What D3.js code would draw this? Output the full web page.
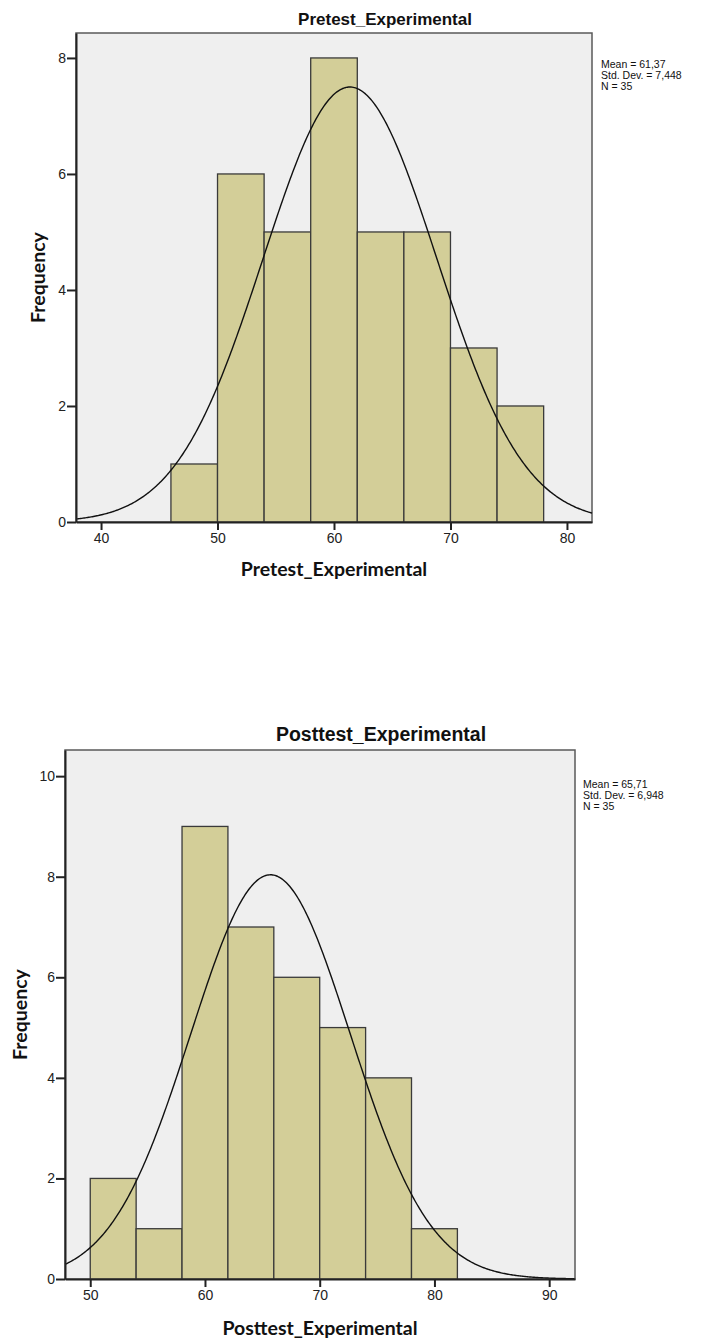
<!DOCTYPE html>
<html>
<head>
<meta charset="utf-8">
<script src="https://cdn.jsdelivr.net/npm/d3@7"></script>
<style>
  body { margin: 0; background: #fff; }
  svg text { font-family: "Liberation Sans", Arial, sans-serif; }
</style>
</head>
<body>
<div id="chart"></div>
<script>
// histogram data
var binWidth = 4;

var preBinStarts = [46, 50, 54, 58, 62, 66, 70, 74];
var preCounts = [1, 6, 5, 8, 5, 5, 3, 2];
var preStats = ["Mean = 61,37", "Std. Dev. = 7,448", "N = 35"];
var preMean = 61.37, preSd = 7.448, preN = 35;
var preXTicks = [40, 50, 60, 70, 80];
var preYTicks = [0, 2, 4, 6, 8];

var postBinStarts = [50, 54, 58, 62, 66, 70, 74, 78];
var postCounts = [2, 1, 9, 7, 6, 5, 4, 1];
var postStats = ["Mean = 65,71", "Std. Dev. = 6,948", "N = 35"];
var postMean = 65.71, postSd = 6.948, postN = 35;
var postXTicks = [50, 60, 70, 80, 90];
var postYTicks = [0, 2, 4, 6, 8, 10];

var width = 706;
var height = 1341;

var svg = d3.select("#chart").append("svg")
  .attr("width", width)
  .attr("height", height);

function drawHist(o) {
  var x = d3.scaleLinear().domain(o.xDomain).range([o.left, o.right]);
  var y = d3.scaleLinear().domain([0, o.yMax]).range([o.bottom, o.top]);
  var g = svg.append("g");

  // plot background
  g.append("rect")
    .attr("x", o.left).attr("y", o.top)
    .attr("width", o.right - o.left).attr("height", o.bottom - o.top)
    .attr("fill", "#efefef")
    .attr("stroke", "#5a5a5a")
    .attr("stroke-width", 1.5);

  var bins = o.starts.map(function (s, i) { return { x0: s, x1: s + binWidth, n: o.counts[i] }; });

  g.append("g").selectAll("rect")
    .data(bins)
    .join("rect")
    .attr("x", d => x(d.x0))
    .attr("y", d => y(d.n))
    .attr("width", d => x(d.x1) - x(d.x0))
    .attr("height", d => y(0) - y(d.n))
    .attr("fill", "#d3ce98")
    .attr("stroke", "#3a3a3a")
    .attr("stroke-width", 1.3);

  // normal curve scaled to counts
  var k = o.n * binWidth / (o.sd * Math.sqrt(2 * Math.PI));
  var pts = d3.range(o.xDomain[0], o.xDomain[1] + 0.01, 0.1).map(function (v) {
    return [v, k * Math.exp(-0.5 * Math.pow((v - o.mean) / o.sd, 2))];
  });
  g.append("path")
    .datum(pts)
    .attr("fill", "none")
    .attr("stroke", "#111")
    .attr("stroke-width", 1.4)
    .attr("d", d3.line().x(d => x(d[0])).y(d => y(d[1])));

  // axes
  var xa = g.append("g")
    .attr("transform", "translate(0," + o.bottom + ")")
    .call(d3.axisBottom(x).tickValues(o.xTicks).tickSize(8).tickSizeOuter(0).tickPadding(3));
  var ya = g.append("g")
    .attr("transform", "translate(" + o.left + ",0)")
    .call(d3.axisLeft(y).tickValues(o.yTicks).tickSize(9).tickSizeOuter(0).tickPadding(1));
  [xa, ya].forEach(function (a) {
    a.select(".domain").attr("stroke", "#222").attr("stroke-width", 2);
    a.selectAll(".tick line").attr("stroke", "#222").attr("stroke-width", 2);
    a.selectAll(".tick text")
      .attr("fill", "#222")
      .style("font-size", "14px")
      .style("font-family", "Liberation Sans, Arial, sans-serif");
  });

  // title
  g.append("text")
    .attr("x", o.titleX).attr("y", o.titleY)
    .attr("text-anchor", "middle")
    .style("font-size", o.titleSize + "px")
    .style("font-weight", "bold")
    .attr("fill", "#111")
    .text(o.name);

  // axis labels
  g.append("text")
    .attr("x", (o.left + o.right) / 2).attr("y", o.xLabelY)
    .attr("text-anchor", "middle")
    .style("font-family", "Lato, sans-serif")
    .style("font-size", "19.5px")
    .style("font-weight", "bold")
    .attr("fill", "#111")
    .text(o.name);

  g.append("text")
    .attr("transform", "translate(" + o.yLabelX + "," + (o.top + o.bottom) / 2 + ") rotate(-90)")
    .attr("text-anchor", "middle")
    .attr("dy", "0.35em")
    .style("font-family", "Lato, sans-serif")
    .style("font-size", "19.5px")
    .style("font-weight", "bold")
    .attr("fill", "#111")
    .text("Frequency");

  // stats box
  g.append("g").selectAll("text")
    .data(o.stats)
    .join("text")
    .attr("x", o.statsX)
    .attr("y", (d, i) => o.statsY + i * 11)
    .style("font-size", "10.5px")
    .attr("fill", "#111")
    .text(d => d);
}

drawHist({
  name: "Pretest_Experimental",
  starts: preBinStarts, counts: preCounts,
  mean: preMean, sd: preSd, n: preN,
  xTicks: preXTicks, yTicks: preYTicks, stats: preStats,
  xDomain: [37.85, 82.15], yMax: 8.43,
  left: 76, right: 592, top: 33, bottom: 522,
  titleX: 385, titleY: 25, titleSize: 17,
  xLabelY: 576, yLabelX: 38,
  statsX: 601, statsY: 68
});

drawHist({
  name: "Posttest_Experimental",
  starts: postBinStarts, counts: postCounts,
  mean: postMean, sd: postSd, n: postN,
  xTicks: postXTicks, yTicks: postYTicks, stats: postStats,
  xDomain: [47.8, 92.25], yMax: 10.52,
  left: 65, right: 575, top: 750, bottom: 1279,
  titleX: 381, titleY: 741, titleSize: 19.5,
  xLabelY: 1335, yLabelX: 20,
  statsX: 583, statsY: 788
});
</script>
</body>
</html>
